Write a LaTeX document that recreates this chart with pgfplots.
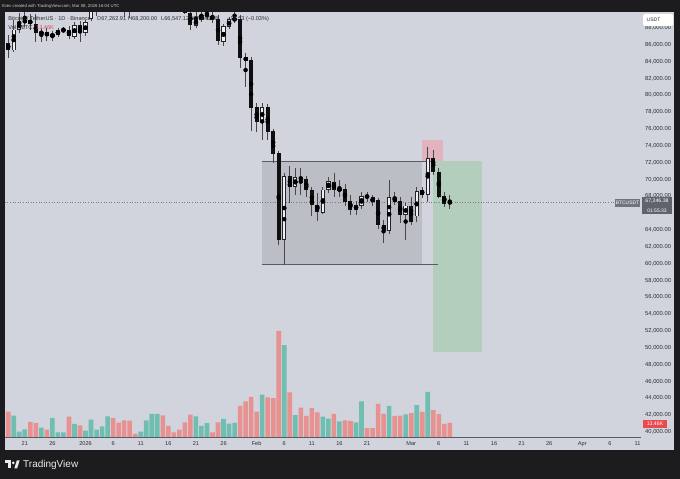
\documentclass[border=0pt]{standalone}
\usepackage{fontspec}
\setmainfont{Liberation Sans}
\usepackage{pgfplots}
\usepackage{pgfplotstable}
\pgfplotsset{compat=1.18}
\newcommand\fs[1]{\fontsize{#1}{#1}\selectfont}
\definecolor{frame}{RGB}{28,28,30}
\definecolor{chartbg}{RGB}{209,212,220}
\definecolor{rangefill}{RGB}{188,190,197}
\definecolor{rangeline}{RGB}{90,92,100}
\definecolor{slfill}{RGB}{226,178,190}
\definecolor{tpfill}{RGB}{180,206,189}
\definecolor{volred}{RGB}{232,145,145}
\definecolor{volgreen}{RGB}{112,190,178}
\definecolor{cdown}{RGB}{15,15,18}
\definecolor{cedge}{RGB}{35,35,40}
\definecolor{cupfill}{RGB}{238,239,242}
\definecolor{wick}{RGB}{70,70,75}
\definecolor{axistext}{RGB}{45,45,50}
\definecolor{pricebox}{RGB}{112,116,126}
\definecolor{pricedot}{RGB}{120,123,134}
\definecolor{tvred}{RGB}{236,72,78}
\definecolor{hdrtext}{RGB}{205,205,208}

\pgfplotstableread{
d o h l c
-2 85380 88900 85100 87760
-1 87760 89800 87400 88700
0 88700 90300 88100 88900
3 87400 88000 86370 87440
5 86960 87600 86490 87280
6 87200 88000 86900 87670
7 87670 88100 87500 87760
9 86960 88700 86700 88350
11 87440 89000 87000 88625
12 89150 92500 88800 91500
13 91500 93500 89400 92500
14 92500 94500 91200 93800
15 93800 95000 93000 94500
21 90100 92500 90000 92000
22 92000 94800 91700 94500
23 94500 97500 94200 96900
24 96900 97900 95800 97000
31 88300 90300 87950 89030
32 89030 90200 88700 89450
33 89450 90400 89000 89600
36 86370 88500 85900 88150
37 88150 89300 87900 88950
38 88950 90300 88600 89100
43 76830 79100 74690 78610
47 62810 70730 59840 70410
49 69140 71360 68160 70210
54 66050 69140 65900 68750
55 68750 70330 68400 69740
57 68750 69970 67950 68850
60 66370 67500 65800 66970
61 66850 68550 66500 67950
66 63910 69940 63500 67840
69 65780 67200 62810 66850
71 65660 69140 64980 68550
73 68240 73890 67360 72520
}\upT

\pgfplotstableread{
d o h l c
-3 86180 87160 84430 85380
1 88900 89700 87760 88470
2 88470 89600 86330 87400
4 87480 88000 86500 87045
8 87670 88200 86650 87045
10 88350 88800 86370 87440
16 94500 94900 92800 93200
17 93200 93500 91000 91400
18 91400 92000 89300 90600
19 90600 91600 89180 90300
20 90300 90900 90000 90100
25 97000 97200 94700 95300
26 95300 96000 94400 95000
27 95000 95400 94300 94900
28 94900 95200 92800 93500
29 93500 93800 89700 89780
30 89780 90500 87760 88350
34 89420 90000 88600 89030
35 89030 89500 85980 86490
39 89060 89500 83200 84520
40 84520 85000 81000 84110
41 84110 84500 75760 78570
42 78610 79050 75680 76830
44 78610 78970 74690 75680
45 75680 76000 71960 73110
46 73110 73400 62220 62810
48 70410 71600 67200 69140
50 70260 71330 68160 70020
51 70020 70410 67920 68750
52 68750 69140 65660 66970
53 66970 68360 65100 66170
56 69620 70730 67950 68750
58 68830 69460 66900 67360
59 67360 68160 65780 66370
62 68040 68550 67360 67950
63 67840 68160 66900 67360
64 67480 67800 64100 64590
65 64590 65190 62490 63910
67 67840 68550 66970 67360
68 67360 67950 64870 65780
70 66770 67950 64590 64980
72 68670 69140 67800 68240
74 72520 73500 70530 70920
75 70800 71330 67760 67950
76 67950 68550 66770 67170
77 67262.91 68200 66547.12 67246.38
}\downT

\pgfplotstableread{
d v
-3 24.3
1 14.4
2 13.4
4 7.0
8 19.5
10 11.2
16 18.2
17 13.7
18 16.0
19 15.6
20 2.9
25 20.8
26 10.6
27 4.5
28 7.0
29 14.1
30 21.4
34 4.5
35 14.1
39 29.8
40 34.3
41 38.4
42 24.3
44 38.1
45 37.2
46 101.8
48 42.9
50 28.1
51 20.2
52 27.8
53 23.7
56 22.1
58 16.0
59 15.4
62 8.4
63 8.4
64 31.7
65 22.4
67 20.2
68 20.4
70 22.8
72 24.0
74 25.9
75 22.1
76 12.5
77 13.46
}\volR

\pgfplotstableread{
d v
-2 20.4
-1 5.1
0 7.4
3 8.9
5 18.0
6 4.5
7 4.5
9 12.5
11 6.0
12 16.6
13 7.0
14 10.3
15 19.9
21 5.1
22 16.0
23 22.1
24 22.1
31 19.9
32 10.6
33 13.4
36 17.3
37 12.8
38 13.6
43 40.6
47 88.3
49 21.1
54 19.5
55 17.6
57 15.1
60 14.1
61 34.3
66 29.8
69 21.8
71 30.7
73 43.2
}\volG

\begin{document}
\begin{tikzpicture}[x=1pt,y=1pt]
\fill[frame] (0,0) rectangle (680,479);
\fill[chartbg] (4.7,29) rectangle (674,466.7);

% volume pane
\begin{axis}[
  at={(4.7pt,42pt)}, anchor=south west, scale only axis,
  width=636.3pt, height=424.7pt,
  xmin=-3.641, xmax=111.63, ymin=0, ymax=407.7,
  hide axis, clip=true]
\addplot[ybar, bar width=4.6pt, bar shift=0pt, fill=volred, draw=none] table[x=d,y=v]{\volR};
\addplot[ybar, bar width=4.6pt, bar shift=0pt, fill=volgreen, draw=none] table[x=d,y=v]{\volG};
\end{axis}

% price pane
\begin{axis}[
  at={(4.7pt,42pt)}, anchor=south west, scale only axis,
  width=636.3pt, height=424.7pt,
  xmin=-3.641, xmax=111.63, ymin=39406, ymax=89860,
  axis line style={draw=none}, major tick length=0pt,
  xtick={0,5,11,16,21,26,31,36,42,47,52,57,62,70,75,80,85,90,95,101,106,111},
  xticklabels={21,26,2026,6,11,16,21,26,Feb,6,11,16,21,Mar,6,11,16,21,26,Apr,6,11},
  ytick={40000,42000,44000,46000,48000,50000,52000,54000,56000,58000,60000,62000,64000,68000,70000,72000,74000,76000,78000,80000,82000,84000,86000,88000},
  yticklabel pos=right, scaled y ticks=false,
  xticklabel style={font=\fs{5.6}, text=axistext, inner sep=0pt, anchor=north, yshift=-4.6pt},
  yticklabel style={font=\fs{5.8}, text=axistext, inner sep=0pt, anchor=west, xshift=4pt,
     /pgf/number format/.cd, fixed, fixed zerofill, precision=2, 1000 sep={,}, assume math mode=true},
  clip=true]
% range box and position boxes
\addplot[fill=rangefill, draw=none] coordinates {(42.97,59920) (71.96,59920) (71.96,72190) (42.97,72190)} -- cycle;
\addplot[fill=slfill, draw=none] coordinates {(71.98,72190) (75.85,72190) (75.85,74690) (71.98,74690)} -- cycle;
\addplot[fill=tpfill, draw=none] coordinates {(73.95,49560) (82.83,49560) (82.83,72190) (73.95,72190)} -- cycle;
\addplot[draw=rangeline, line width=0.9pt] coordinates {(42.97,72190) (73.95,72190)};
\addplot[draw=rangeline, line width=0.9pt] coordinates {(42.97,59920) (74.86,59920)};
% last price line
\addplot[draw=pricedot, dotted, line width=0.6pt] coordinates {(-3.641,67246.38) (111.63,67246.38)};
% wicks
\addplot[only marks, mark=none, error bars/.cd, y dir=both, y explicit, error mark=none,
  error bar style={line width=0.8pt, color=wick}]
  table[x=d, y expr={(\thisrow{h}+\thisrow{l})/2}, y error expr={(\thisrow{h}-\thisrow{l})/2}]{\downT};
\addplot[only marks, mark=none, error bars/.cd, y dir=both, y explicit, error mark=none,
  error bar style={line width=0.8pt, color=wick}]
  table[x=d, y expr={(\thisrow{h}+\thisrow{l})/2}, y error expr={(\thisrow{h}-\thisrow{l})/2}]{\upT};
% down bodies
\addplot[only marks, mark=none, error bars/.cd, y dir=both, y explicit, error mark=none,
  error bar style={line width=4pt, color=cdown}]
  table[x=d, y expr={(\thisrow{o}+\thisrow{c})/2}, y error expr={abs(\thisrow{o}-\thisrow{c})/2+45}]{\downT};
% up bodies: outline then fill
\addplot[only marks, mark=none, error bars/.cd, y dir=both, y explicit, error mark=none,
  error bar style={line width=4.4pt, color=cedge}]
  table[x=d, y expr={(\thisrow{o}+\thisrow{c})/2}, y error expr={abs(\thisrow{o}-\thisrow{c})/2+55}]{\upT};
\addplot[only marks, mark=none, error bars/.cd, y dir=both, y explicit, error mark=none,
  error bar style={line width=2.4pt, color=cupfill}]
  table[x=d, y expr={(\thisrow{o}+\thisrow{c})/2}, y error expr={max(abs(\thisrow{o}-\thisrow{c})/2+55-115,0)}]{\upT};
\end{axis}

% time axis line
\draw[color=rangeline, line width=0.8pt] (4.7,42) -- (641,42);

% header bar text
\node[anchor=west, inner sep=0pt, text=hdrtext, font=\fs{4.3}] at (1.5,473) {Xirec created with TradingView.com, Mar 08, 2026 16:04 UTC};
% legend
\begin{scope}[every node/.style={anchor=west, inner sep=0pt, text=axistext, font=\fs{5.6}}]
\node at (8.3,460) {Bitcoin / TetherUS · 1D · Binance};
\node at (96.7,460) {O67,262.91};
\node at (128,460) {H68,200.00};
\node at (161,460) {L66,547.12};
\node at (189,460) {C67,246.38};
\node at (227,460) {−16.53 (−0.03\%)};
\node at (8.3,451) {Vol · BTC};
\node[text=tvred] at (36,451) {13.46K};
\end{scope}

% USDT box
\fill[white, rounded corners=1.5pt] (643,453) rectangle (673,465);
\node[anchor=west, inner sep=0pt, text=axistext, font=\fs{5}] at (646.5,459) {USDT};

% last price labels
\fill[pricebox] (615,272) rectangle (640,280);
\node[inner sep=0pt, text=white, font=\fs{4.9}] at (627.5,276) {BTCUSDT};
\fill[pricebox!85!black] (642,264.5) rectangle (672,282);
\node[inner sep=0pt, text=white, font=\fs{5.2}] at (657,278.3) {67,246.38};
\node[inner sep=0pt, text=white, font=\fs{5}] at (657,268.6) {01:55:33};

% volume label
\fill[tvred] (643,51) rectangle (667,59);
\node[inner sep=0pt, text=white, font=\fs{5.2}] at (655,55) {13.46K};

% TradingView logo
\fill[white!92!black] (5.2,16) rectangle (11,18.5);
\fill[white!92!black] (8.3,10.5) rectangle (11,18.5);
\fill[white!92!black] (13.3,16.1) circle (1.45);
\fill[white!92!black] (14.3,10.5) -- (17.1,10.5) -- (19.6,18.5) -- (16.8,18.5) -- cycle;
\node[anchor=west, inner sep=0pt, text=white!92!black, font=\fs{10}] at (23,14.5) {TradingView};

\pgfresetboundingbox
\useasboundingbox (0,0) rectangle (680,479);
\end{tikzpicture}
\end{document}
